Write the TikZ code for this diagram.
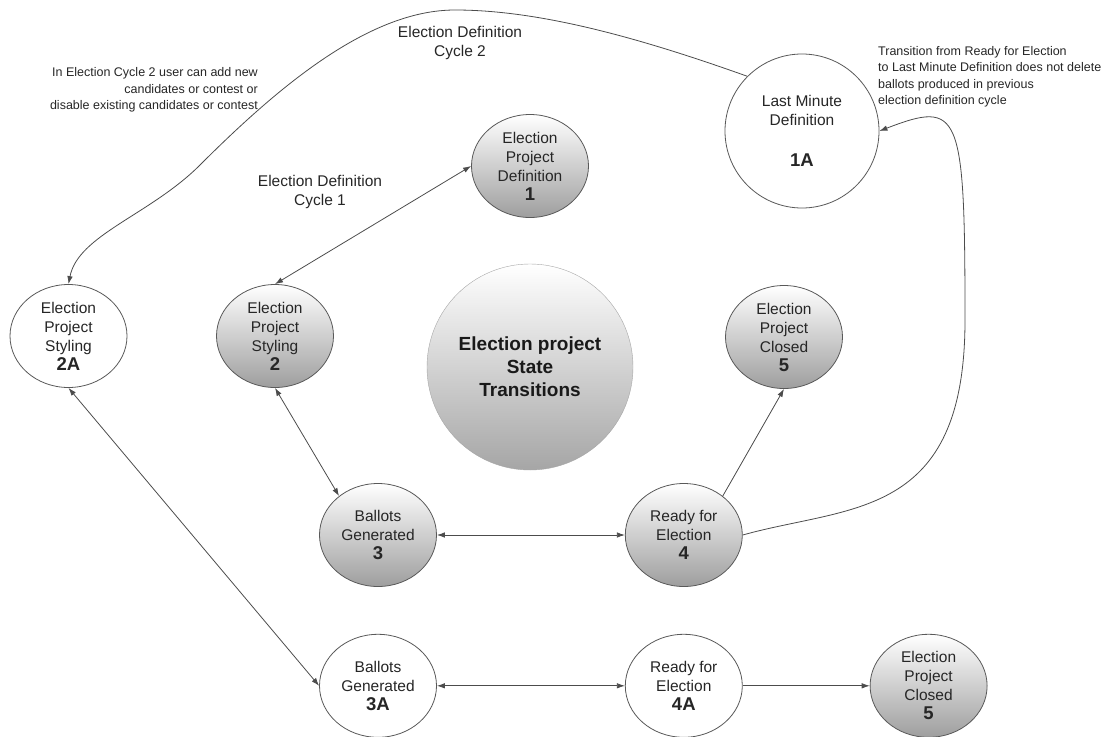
\documentclass[tikz,border=0pt]{standalone}
\usepackage{fontspec}
\setmainfont{Liberation Sans}
\usetikzlibrary{shapes.geometric, arrows.meta, positioning}
\tikzstyle{state} = [ellipse, draw=black!65, line width=0.8pt, minimum width=117pt, minimum height=103pt, inner sep=0pt, align=center, text=black!85, font=\fontsize{15.5}{19}\selectfont]
\tikzstyle{done} = [state, top color=white, bottom color=black!38]
\tikzstyle{redo} = [state, fill=white]
\tikzstyle{hub} = [circle, draw=black!35, minimum size=206pt, inner sep=0pt, align=center, text=black!90, top color=white, bottom color=black!35, font=\fontsize{19}{23}\selectfont\bfseries]
\tikzstyle{tag} = [align=center, text=black!85, font=\fontsize{15.5}{19.5}\selectfont]
\tikzstyle{note} = [inner sep=0pt, text=black!85, font=\fontsize{12.5}{16.5}\selectfont]
\tikzstyle{go} = [line width=0.8pt, draw=black!70, -{Latex[length=8pt,width=5.5pt]}]
\tikzstyle{both} = [go, {Latex[length=8pt,width=5.5pt]}-{Latex[length=8pt,width=5.5pt]}]
\newcommand{\stnum}[1]{{\fontsize{18.5}{20}\selectfont\bfseries #1}}

\begin{document}
\begin{tikzpicture}[x=1pt, y=-1pt, node distance=47pt and 127pt]
	\useasboundingbox (0,0) rectangle (1108,736);

	% Centre
	\node (hub) [hub] at (530,367) {Election project\\State\\Transitions};

	% Definition cycle 1
	\node (def) [done] at (530,166) {Election\\Project\\Definition\\\stnum{1}};
	\node (sty) [done] at (275,336) {Election\\Project\\Styling\\\stnum{2}};
	\node (bal) [done] at (378,535) {Ballots\\Generated\\\stnum{3}};
	\node (rdy) [done, right=188pt of bal] {Ready for\\Election\\\stnum{4}};
	\node (cls) [done] at (784,337) {Election\\Project\\Closed\\\stnum{5}};

	% Definition cycle 2
	\node (lmd) [redo, circle, minimum size=154pt] at (802,131) {Last Minute\\Definition\\[22pt]\stnum{1A}};
	\node (sty2) [redo] at (68.5,336) {Election\\Project\\Styling\\\stnum{2A}};
	\node (bal2) [redo, below=of bal] {Ballots\\Generated\\\stnum{3A}};
	\node (rdy2) [redo, below=of rdy] {Ready for\\Election\\\stnum{4A}};
	\node (cls2) [done, right=of rdy2] {Election\\Project\\Closed\\\stnum{5}};

	% Labels
	\node (cyc2) [tag] at (460,43) {Election Definition\\Cycle 2};
	\node (cyc1) [tag] at (320,192) {Election Definition\\Cycle 1};
	\node (note2) [note, align=right, anchor=east] at (258,90) {In Election Cycle 2 user can add new\\candidates or contest or\\disable existing candidates or contest};
	\node (note1) [note, align=left, anchor=west] at (878,77) {Transition from Ready for Election\\to Last Minute Definition does not delete\\ballots produced in previous\\election definition cycle};

	% Arrows - cycle 1
	\draw[both] (sty.north) -- (def.west);
	\draw[both] (sty.south) -- (bal.135);
	\draw[both] (bal) -- (rdy);
	\draw[go] (rdy.45) -- (cls.south);

	% Back to last minute definition
	\coordinate (bend) at (965,320);
	\draw[go] (rdy.east) .. controls (850,505) and (965,520) .. (bend) .. controls (965,110) and (960,100) .. (lmd.east);

	% Arrows - cycle 2
	\coordinate (crest) at (455,10);
	\coordinate (slope) at (200,165);
	\draw[go] (lmd.135) .. controls (640,38) and (540,10) .. (crest) .. controls (370,10) and (280,85) .. (slope) .. controls (150,215) and (78,235) .. (sty2.north);
	\draw[both] (sty2.south) -- (bal2.west);
	\draw[both] (bal2) -- (rdy2);
	\draw[go] (rdy2) -- (cls2);

\end{tikzpicture}
\end{document}
